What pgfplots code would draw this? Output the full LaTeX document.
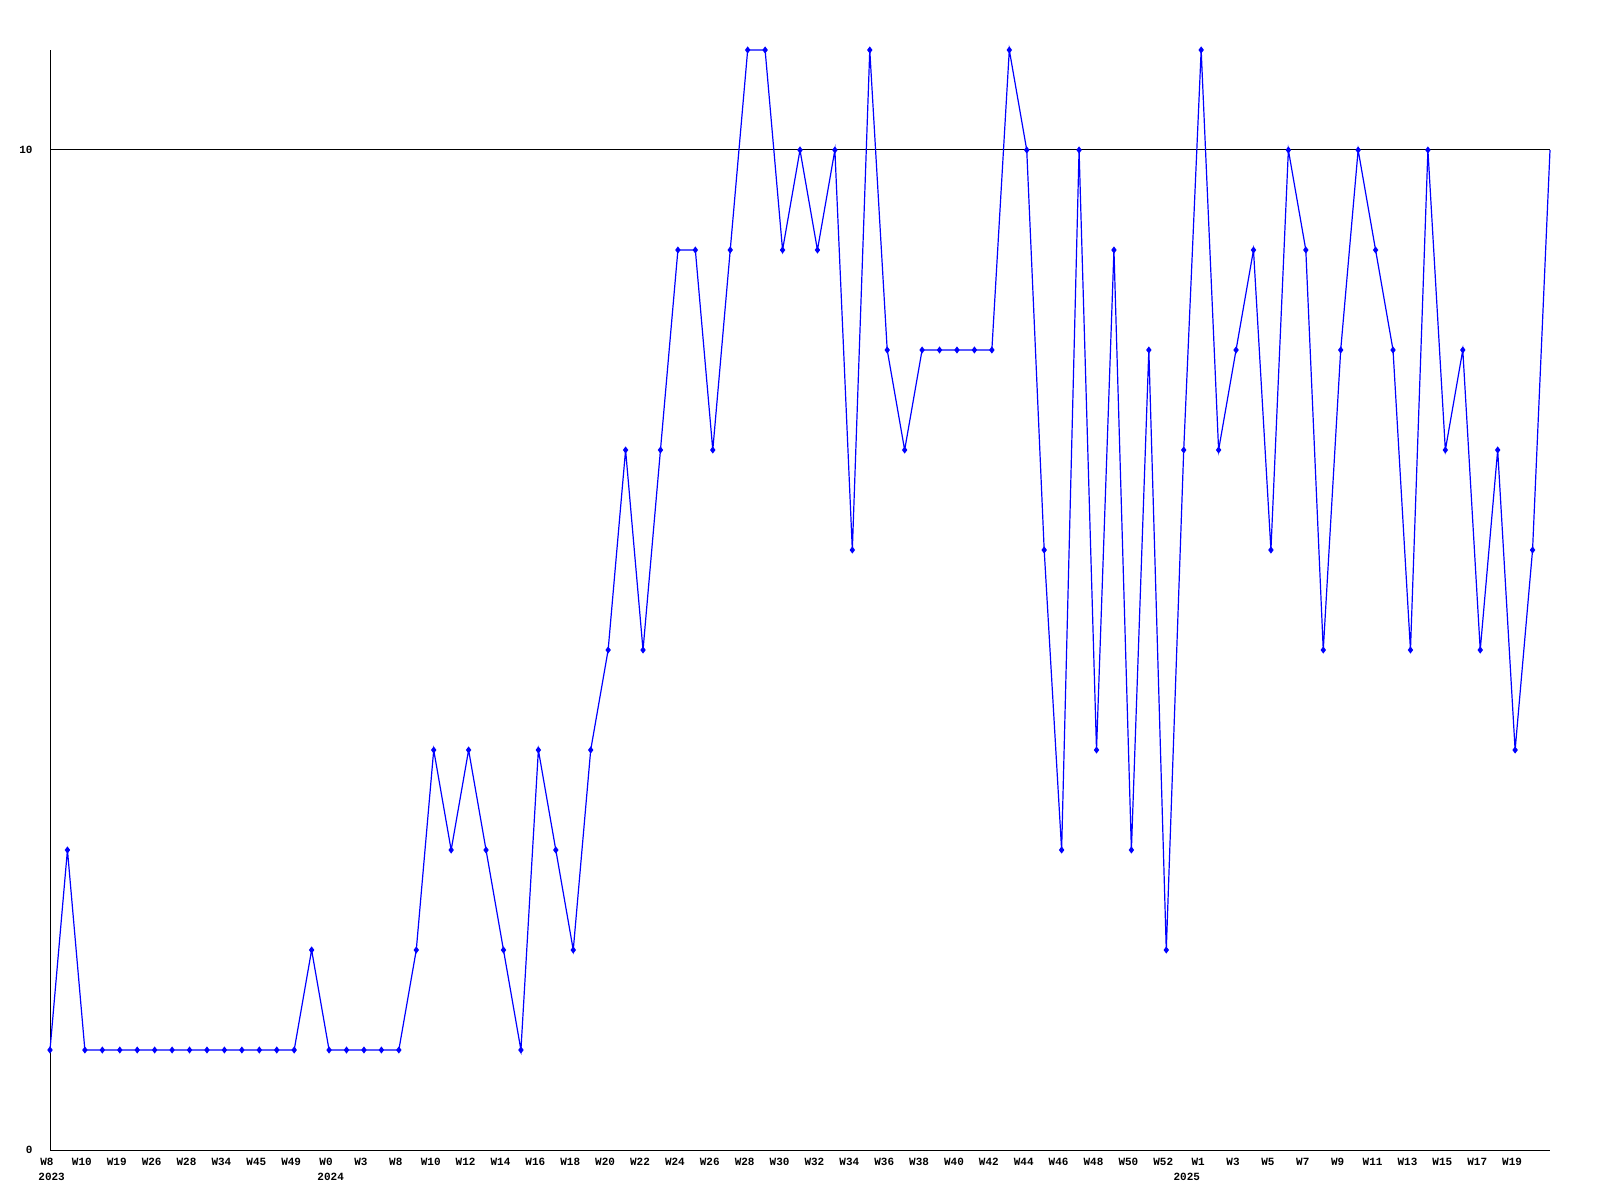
\documentclass[border=0pt]{standalone}
\usepackage{fontspec}
\setmainfont{Liberation Mono}
\usepackage{pgfplots}
\pgfplotsset{compat=1.18}
\pgfplotstableread{
x y
0 1
1 3
2 1
3 1
4 1
5 1
6 1
7 1
8 1
9 1
10 1
11 1
12 1
13 1
14 1
15 2
16 1
17 1
18 1
19 1
20 1
21 2
22 4
23 3
24 4
25 3
26 2
27 1
28 4
29 3
30 2
31 4
32 5
33 7
34 5
35 7
36 9
37 9
38 7
39 9
40 11
41 11
42 9
43 10
44 9
45 10
46 6
47 11
48 8
49 7
50 8
51 8
52 8
53 8
54 8
55 11
56 10
57 6
58 3
59 10
60 4
61 9
62 3
63 8
64 2
65 7
66 11
67 7
68 8
69 9
70 6
71 10
72 9
73 5
74 8
75 10
76 9
77 8
78 5
79 10
80 7
81 8
82 5
83 7
84 4
85 6
86 10
}\datatable
\begin{document}
\begin{tikzpicture}[x=1pt,y=1pt]
\useasboundingbox (0,0) rectangle (800,600);
\begin{axis}[
  at={(25pt,25pt)}, anchor=south west,
  width=750pt, height=550pt, scale only axis,
  xmin=0, xmax=86, ymin=0, ymax=11,
  axis x line*=bottom, axis y line*=left,
  axis line style={-, black, line width=0.5pt},
  major tick length=0pt,
  ytick={0,10}, yticklabels={0,10},
  ymajorgrids, grid style={black, line width=0.5pt},
  xtick={0,2,...,84},
  xticklabels={W8,W10,W19,W26,W28,W34,W45,W49,W0,W3,W8,W10,W12,W14,W16,W18,W20,W22,W24,W26,W28,W30,W32,W34,W36,W38,W40,W42,W44,W46,W48,W50,W52,W1,W3,W5,W7,W9,W11,W13,W15,W17,W19},
  tick label style={font=\fontsize{5.5}{6.5}\selectfont\bfseries},
  xticklabel style={anchor=north, inner sep=0pt, yshift=-4pt, xshift=-1.5pt},
  yticklabel style={anchor=east, inner sep=0pt, xshift=-8.5pt},
  clip=false,
]
\addplot[color={rgb,255:red,0;green,0;blue,255}, line width=0.6pt, mark=diamond*, mark size=1.3pt, mark indices={1,...,86}] table[x=x,y=y] {\datatable};
\node[anchor=north west, inner sep=0pt, font=\fontsize{5.5}{6.5}\selectfont\bfseries] at (axis cs:0,0) [xshift=-6pt, yshift=-11.5pt] {2023};
\node[anchor=north west, inner sep=0pt, font=\fontsize{5.5}{6.5}\selectfont\bfseries] at (axis cs:16,0) [xshift=-6pt, yshift=-11.5pt] {2024};
\node[anchor=north west, inner sep=0pt, font=\fontsize{5.5}{6.5}\selectfont\bfseries] at (axis cs:66,0) [xshift=-14pt, yshift=-11.5pt] {2025};
\end{axis}
\end{tikzpicture}
\end{document}
